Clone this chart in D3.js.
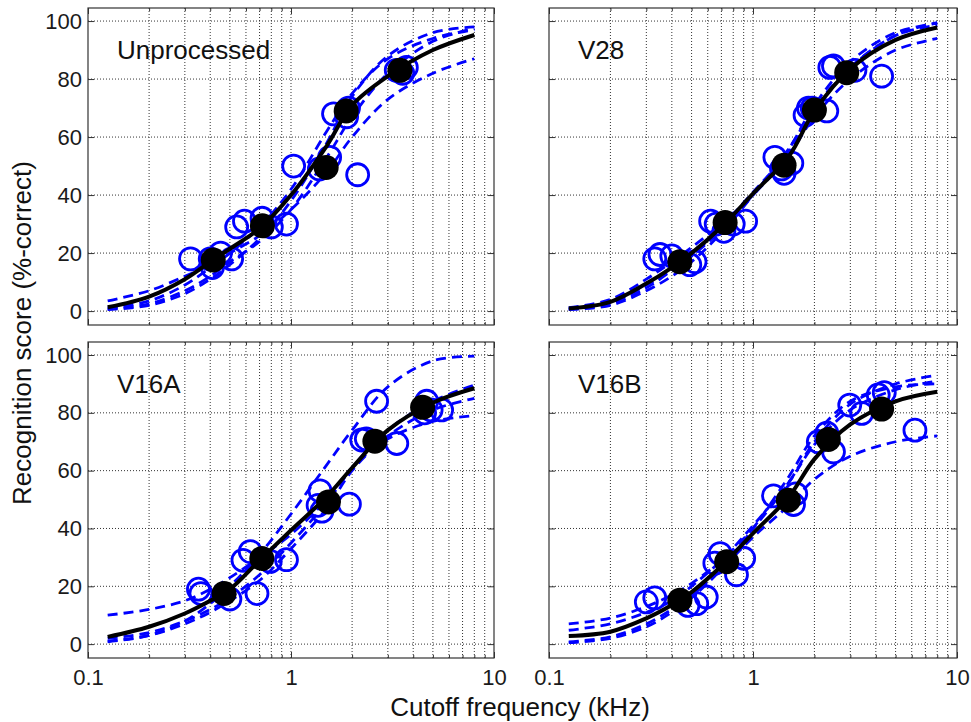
<!DOCTYPE html>
<html>
<head>
<meta charset="utf-8">
<script src="https://cdn.jsdelivr.net/npm/d3@7"></script>
<style>
body { margin: 0; background: #fff; }
svg { font-family: "Liberation Sans", Arial, Helvetica, sans-serif; }
</style>
</head>
<body>
<div id="chart"></div>
<script>
var curveFreq = [0.125, 0.2, 0.3, 0.4, 0.5, 0.7, 1, 1.5, 2, 3, 5, 8]

var yTicks = [0, 20, 40, 60, 80, 100]
var xMajor = [0.1, 1, 10]
var xTickLabels = ["0.1", "1", "10"]
var panelNames = ["Unprocessed", "V28", "V16A", "V16B"]

// ---- Unprocessed
var unprocMeanFreq = [0.414, 0.723, 1.49, 1.87, 3.44]
var unprocMean = [17.6, 29.4, 49.5, 69, 83]
var unprocSubj = [[0.32,18],[0.40,18],[0.41,15],[0.45,20],[0.51,18],[0.54,29],[0.59,31],[0.72,32],[0.80,29],[0.95,30],
  [1.03,50],[1.38,49],[1.55,53],[1.62,68],[1.88,67],[1.92,70],[2.13,47],[3.3,83],[3.55,82],[3.7,84]]
var unprocFit = [1.3, 5, 11, 17, 21.5, 28.5, 40, 57, 71, 81, 90, 95.2]
var unprocSubjFits = [
  [3.5, 7, 12, 16, 20, 26, 35, 48, 60, 73, 82, 87],
  [0.5, 2, 6, 11, 16, 25, 38, 58, 74, 88, 96, 98],
  [1, 3.5, 9, 15, 20, 29, 42, 62, 75, 87, 94, 97],
  [0.7, 2.5, 7, 12, 17, 24, 35, 53, 67, 82, 93, 97.5]
]

// ---- V28
var v28MeanFreq = [0.438, 0.73, 1.42, 2.0, 2.88]
var v28Mean = [17, 30.5, 50.3, 69.3, 82.2]
var v28Subj = [[0.33,18],[0.35,19.5],[0.40,19],[0.49,16],[0.52,17],[0.62,31],[0.66,30],[0.72,27.5],[0.80,30],[0.92,31],
  [1.28,53],[1.38,49],[1.55,51],[1.42,47.5],[1.87,70],[1.80,67.5],[2.30,69],[1.95,70],[2.38,84],[2.48,84.5],[3.16,83],[4.27,81]]
var v28Fit = [0.9, 3.2, 9.5, 15, 20, 29, 40.5, 53.4, 69, 83.5, 93.5, 97.8]
var v28SubjFits = [
  [0.5, 2, 7, 12, 17, 27, 40, 56, 70, 84, 95, 99.5],
  [1.2, 4, 11, 17, 22, 30, 40, 54, 67, 80, 90, 94],
  [0.6, 2.5, 8, 14, 19, 28, 40, 56, 71, 86, 96, 99.2],
  [0.8, 3, 9, 14, 19, 29, 41, 55, 69, 84, 95, 98.6]
]

// ---- V16A
var v16aMeanFreq = [0.468, 0.718, 1.53, 2.59, 4.45]
var v16aMean = [17.5, 29.6, 49.2, 70.2, 81.9]
var v16aSubj = [[0.35,19],[0.36,17.5],[0.50,15.6],[0.58,29],[0.63,32],[0.68,17.5],[0.79,28.6],[0.95,29.2],
  [1.39,53],[1.36,48],[1.42,46],[1.94,48.4],[2.23,70.6],[2.35,71],[2.64,84],[3.32,69.4],[4.66,84],[4.55,80],[5.52,81],[4.9,81]]
var v16aFit = [2.5, 6, 10.6, 15, 19, 29, 39.4, 51, 61, 74, 83.5, 88.5]
var v16aSubjFits = [
  [0.8, 3, 8, 14, 20, 31, 45, 62, 74, 89, 98, 99.6],
  [10, 12, 15, 19, 23, 30, 38, 50, 61, 71, 77, 79],
  [2, 4, 8, 12, 16, 24, 35, 49, 61, 74, 84, 89.6],
  [1, 3, 7, 11, 15, 22, 33, 47, 60, 72, 81, 85]
]

// ---- V16B
var v16bMeanFreq = [0.438, 0.743, 1.49, 2.34, 4.27]
var v16bMean = [15.2, 28.5, 49.8, 70.8, 81.3]
var v16bSubj = [[0.30,14.6],[0.33,16],[0.48,13.4],[0.53,14],[0.59,16.3],[0.65,28],[0.69,31.3],[0.83,24],[0.90,29.7],
  [1.26,51.3],[1.58,48.3],[1.62,52],[2.09,70],[2.48,66.5],[2.30,73],[2.98,82.7],[3.41,79.8],[4.11,86.2],[4.4,87],[6.22,74]]
var v16bFit = [2.8, 4.3, 8.9, 13.5, 18, 27, 38.3, 51, 64, 76, 84, 87.3]
var v16bSubjFits = [
  [0.8, 2.5, 7, 12, 17, 26, 37, 48, 57, 65, 70, 72],
  [7, 9, 13, 17, 21, 29, 40, 56, 70, 83, 90, 93],
  [4.8, 7, 11, 15, 20, 29, 41, 56, 69, 81, 88, 91],
  [0.5, 2, 6, 11, 16, 26, 40, 58, 72, 84, 89, 90]
]

var panels = [
  {name: panelNames[0], meanFreq: unprocMeanFreq, mean: unprocMean, subj: unprocSubj, fit: unprocFit, subjFits: unprocSubjFits},
  {name: panelNames[1], meanFreq: v28MeanFreq, mean: v28Mean, subj: v28Subj, fit: v28Fit, subjFits: v28SubjFits},
  {name: panelNames[2], meanFreq: v16aMeanFreq, mean: v16aMean, subj: v16aSubj, fit: v16aFit, subjFits: v16aSubjFits},
  {name: panelNames[3], meanFreq: v16bMeanFreq, mean: v16bMean, subj: v16bSubj, fit: v16bFit, subjFits: v16bSubjFits}
]

var width = 971, height = 722
var cols = [{left: 88, right: 494}, {left: 549, right: 957}]
var rows = [{top: 8, bottom: 325}, {top: 342, bottom: 658}]
var blue = "#0000ff"

var svg = d3.select("#chart").append("svg")
    .attr("width", width)
    .attr("height", height)

panels.forEach(function(p, i) {
  var c = cols[i % 2], r = rows[Math.floor(i / 2)]
  var x = d3.scaleLog().domain([0.1, 10]).range([c.left, c.right])
  var y = d3.scaleLinear().domain([-4.8, 104.5]).range([r.bottom, r.top])
  var g = svg.append("g")

  // dotted grid
  var xGrid = x.ticks().filter(function(d) { return d > 0.1 && d < 10 })
  g.selectAll(".xgrid").data(xGrid).enter().append("line")
    .attr("x1", function(d) { return x(d) }).attr("x2", function(d) { return x(d) })
    .attr("y1", r.top).attr("y2", r.bottom)
    .attr("stroke", "#333").attr("stroke-width", 1).attr("stroke-dasharray", "1,2")
  g.selectAll(".ygrid").data(yTicks).enter().append("line")
    .attr("x1", c.left).attr("x2", c.right)
    .attr("y1", function(d) { return y(d) }).attr("y2", function(d) { return y(d) })
    .attr("stroke", "#333").attr("stroke-width", 1).attr("stroke-dasharray", "1,2")

  // axes, ticks point inward like matlab
  var yAxis = d3.axisLeft(y).tickValues(yTicks).tickSize(-6).tickPadding(6)
  if (i % 2 == 1) yAxis.tickFormat("")
  g.append("g").attr("transform", "translate(" + c.left + ",0)").call(yAxis)
  g.append("g").attr("transform", "translate(" + c.right + ",0)")
    .call(d3.axisRight(y).tickValues(yTicks).tickSize(-6).tickFormat(""))

  var xAxis = d3.axisBottom(x).tickValues(x.ticks()).tickSize(-3).tickPadding(11)
    .tickFormat(function(d) {
      var k = xMajor.indexOf(d)
      return (i >= 2 && k >= 0) ? xTickLabels[k] : ""
    })
  var xa = g.append("g").attr("transform", "translate(0," + r.bottom + ")").call(xAxis)
  var xt = g.append("g").attr("transform", "translate(0," + r.top + ")")
    .call(d3.axisTop(x).tickValues(x.ticks()).tickSize(-3).tickFormat(""))
  xa.selectAll(".tick line").filter(function(d) { return xMajor.indexOf(d) >= 0 }).attr("y2", -6)
  xt.selectAll(".tick line").filter(function(d) { return xMajor.indexOf(d) >= 0 }).attr("y2", 6)

  g.selectAll(".domain").remove()
  g.selectAll(".tick line").attr("stroke", "#333")
  g.selectAll(".tick text").attr("font-size", 22).attr("fill", "#1a1a1a")
    .attr("font-family", "Liberation Sans, Arial, sans-serif")

  // frame
  g.append("rect")
    .attr("x", c.left).attr("y", r.top)
    .attr("width", c.right - c.left).attr("height", r.bottom - r.top)
    .attr("fill", "none").attr("stroke", "#333").attr("stroke-width", 1.2)

  var line = d3.line()
    .x(function(d, j) { return x(curveFreq[j]) })
    .y(function(d) { return y(d) })
    .curve(d3.curveCatmullRom.alpha(0.5))

  // individual listener fits
  g.selectAll(".subjfit").data(p.subjFits).enter().append("path")
    .attr("d", line)
    .attr("fill", "none").attr("stroke", blue)
    .attr("stroke-width", 2.8).attr("stroke-dasharray", "10,6")

  // individual listener scores
  g.selectAll(".subj").data(p.subj).enter().append("circle")
    .attr("cx", function(d) { return x(d[0]) })
    .attr("cy", function(d) { return y(d[1]) })
    .attr("r", 11)
    .attr("fill", "none").attr("stroke", blue).attr("stroke-width", 2.8)

  // group fit
  g.append("path").datum(p.fit)
    .attr("d", line)
    .attr("fill", "none").attr("stroke", "#000").attr("stroke-width", 4)

  // group means
  g.selectAll(".mean").data(p.mean).enter().append("circle")
    .attr("cx", function(d, j) { return x(p.meanFreq[j]) })
    .attr("cy", function(d) { return y(d) })
    .attr("r", 12.5)
    .attr("fill", "#000")

  g.append("text")
    .attr("x", c.left + 29).attr("y", r.top + 51)
    .attr("font-size", 26).attr("fill", "#111")
    .text(p.name)
})

svg.append("text")
  .attr("transform", "translate(31," + (rows[0].top + rows[1].bottom) / 2 + ") rotate(-90)")
  .attr("text-anchor", "middle")
  .attr("font-size", 26).attr("fill", "#111")
  .text("Recognition score (%-correct)")

svg.append("text")
  .attr("x", 520).attr("y", 716)
  .attr("text-anchor", "middle")
  .attr("font-size", 26).attr("fill", "#111")
  .text("Cutoff frequency (kHz)")
</script>
</body>
</html>
